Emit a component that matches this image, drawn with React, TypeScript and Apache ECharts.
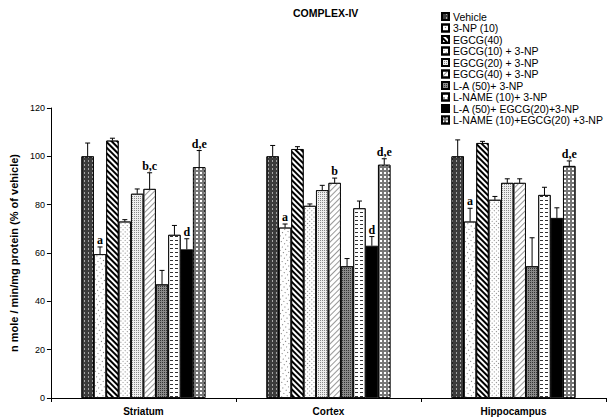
import React, { useEffect, useRef } from "react";
import * as echarts from "echarts";

const categories = ["Striatum", "Cortex", "Hippocampus"];
const groups = [
  "Vehicle",
  "3-NP (10)",
  "EGCG(40)",
  "EGCG(10) + 3-NP",
  "EGCG(20) + 3-NP",
  "EGCG(40) + 3-NP",
  "L-A (50)+ 3-NP",
  "L-NAME (10)+ 3-NP",
  "L-A (50)+ EGCG(20)+3-NP",
  "L-NAME (10)+EGCG(20) +3-NP",
];
// values[group][category]
const values = [
  [100, 100, 100],
  [59.5, 70.5, 73],
  [106.5, 103, 105.5],
  [73, 79.5, 82],
  [84.5, 86, 89],
  [86.5, 89, 89],
  [47, 54.5, 54.5],
  [67.5, 78.5, 84],
  [61.5, 63, 74.5],
  [95.5, 96.5, 96],
];
const errors = [
  [5.5, 4.5, 6.8],
  [3, 1.5, 5.5],
  [1, 1, 0.7],
  [0.8, 0.8, 1.4],
  [2, 2, 1.7],
  [6.7, 2, 1.7],
  [5.8, 3.2, 11.8],
  [3.9, 3, 3.2],
  [4.4, 3.8, 4.2],
  [6.9, 2.5, 2.1],
];
const sigLabels = [
  ["", "", ""],
  ["a", "a", "a"],
  ["", "", ""],
  ["", "", ""],
  ["", "", ""],
  ["b,c", "b", ""],
  ["", "", ""],
  ["", "", ""],
  ["d", "d", ""],
  ["d,e", "d,e", "d,e"],
];
const yTicks = { min: 0, max: 120, interval: 20 };

const fills = [
  { color: "#3c3c3c", decal: { symbol: "rect", symbolSize: 1, color: "rgba(255,255,255,0.55)", dashArrayX: [1, 3], dashArrayY: [2, 2], rotation: 0 } },
  { color: "#ffffff", decal: { symbol: "rect", symbolSize: 1, color: "#777", dashArrayX: [1, 3], dashArrayY: [1, 3], rotation: 0.6 } },
  { color: "#ffffff", decal: { symbol: "rect", symbolSize: 1, color: "#000", dashArrayX: [1, 0], dashArrayY: [2, 2], rotation: Math.PI / 4 } },
  { color: "#ffffff", decal: { symbol: "rect", symbolSize: 1, color: "#888", dashArrayX: [1, 2], dashArrayY: [1, 2], rotation: Math.PI / 4 } },
  { color: "#eeeeee", decal: { symbol: "rect", symbolSize: 1, color: "#888", dashArrayX: [1, 1], dashArrayY: [1, 1], rotation: 0 } },
  { color: "#ffffff", decal: { symbol: "rect", symbolSize: 1, color: "#999", dashArrayX: [1, 0], dashArrayY: [1, 3], rotation: -Math.PI / 4 } },
  { color: "#8a8a8a", decal: { symbol: "rect", symbolSize: 1, color: "#333", dashArrayX: [1, 1], dashArrayY: [1, 1], rotation: 0 } },
  { color: "#ffffff", decal: { symbol: "rect", symbolSize: 1, color: "#333", dashArrayX: [3, 2], dashArrayY: [1, 3], rotation: 0 } },
  { color: "#000000", decal: null },
  { color: "#777777", decal: { symbol: "rect", symbolSize: 1, color: "#ffffff", dashArrayX: [2, 2], dashArrayY: [2, 2], rotation: 0 } },
];

const CAT_GAP = 0.33;

export default function App() {
  const ref = useRef<HTMLDivElement>(null);
  useEffect(() => {
    if (!ref.current) return;
    const chart = echarts.init(ref.current, undefined, { renderer: "svg" });
    const n = groups.length;
    const barSeries = groups.map((g, i) => {
      const itemStyle: any = { color: fills[i].color, borderColor: "#000", borderWidth: 0.8 };
      if (fills[i].decal) itemStyle.decal = fills[i].decal;
      return {
        name: g,
        type: "bar",
        data: values[i],
        barGap: "0%",
        barCategoryGap: CAT_GAP * 100 + "%",
        itemStyle,
      };
    });
    const errData: any[] = [];
    const errLabels: string[] = [];
    for (let i = 0; i < n; i++) {
      for (let c = 0; c < categories.length; c++) {
        errData.push([c, i, values[i][c], errors[i][c]]);
        errLabels.push(sigLabels[i][c]);
      }
    }
    const errSeries = {
      type: "custom",
      silent: true,
      z: 10,
      encode: { x: 0, y: 2 },
      data: errData,
      renderItem: (params: any, api: any) => {
        const c = api.value(0);
        const si = api.value(1);
        const v = api.value(2);
        const e = api.value(3);
        const base = api.coord([c, v]);
        const top = api.coord([c, v + e]);
        const bandW = api.size([1, 0])[0];
        const barW = (bandW * (1 - CAT_GAP)) / n;
        const x = base[0] + (si - (n - 1) / 2) * barW;
        const children: any[] = [
          { type: "line", shape: { x1: x, y1: base[1], x2: x, y2: top[1] }, style: { stroke: "#000", lineWidth: 1 } },
          { type: "line", shape: { x1: x - 2.5, y1: top[1], x2: x + 2.5, y2: top[1] }, style: { stroke: "#000", lineWidth: 1 } },
        ];
        const lbl = errLabels[params.dataIndex];
        if (lbl) {
          children.push({
            type: "text",
            style: {
              text: lbl,
              x: x,
              y: top[1] - 1,
              align: "center",
              verticalAlign: "bottom",
              font: "bold 12px 'Liberation Serif'",
              fill: "#000",
            },
          });
        }
        return { type: "group", children };
      },
    };
    chart.setOption({
      animation: false,
      title: {
        text: "COMPLEX-IV",
        left: 288,
        top: 2,
        textStyle: { fontSize: 10.5, fontWeight: "bold", fontFamily: "Liberation Sans", color: "#000" },
      },
      legend: {
        data: groups,
        orient: "vertical",
        left: 436,
        top: 6,
        itemWidth: 7,
        itemHeight: 7,
        itemGap: 0.5,
        icon: "rect",
        textStyle: { fontSize: 10.5, lineHeight: 11, fontFamily: "Liberation Sans", color: "#000", padding: [0, 0, 0, -1] },
      },
      grid: { left: 43, right: 1, top: 108, bottom: 22, containLabel: false },
      xAxis: {
        type: "category",
        data: categories,
        axisLine: { lineStyle: { color: "#000", width: 1 } },
        axisTick: { show: true, length: 4, lineStyle: { color: "#000" } },
        axisLabel: { fontSize: 10, fontWeight: "bold", fontFamily: "Liberation Sans", color: "#000", margin: 8 },
      },
      yAxis: {
        type: "value",
        min: yTicks.min,
        max: yTicks.max,
        interval: yTicks.interval,
        name: "n mole / min/mg protein (% of vehicle)",
        nameLocation: "middle",
        nameGap: 31,
        nameTextStyle: { fontSize: 11, fontWeight: "bold", fontFamily: "Liberation Sans", color: "#000" },
        axisLine: { show: true, lineStyle: { color: "#000", width: 1 } },
        axisTick: { show: true, length: 4, lineStyle: { color: "#000" } },
        splitLine: { show: false },
        axisLabel: { fontSize: 9, fontFamily: "Liberation Sans", color: "#000", margin: 6 },
      },
      series: [...barSeries, errSeries],
    });
    return () => chart.dispose();
  }, []);
  return <div ref={ref} style={{ position: "absolute", left: 0, top: 0, width: 607, height: 420 }} />;
}
